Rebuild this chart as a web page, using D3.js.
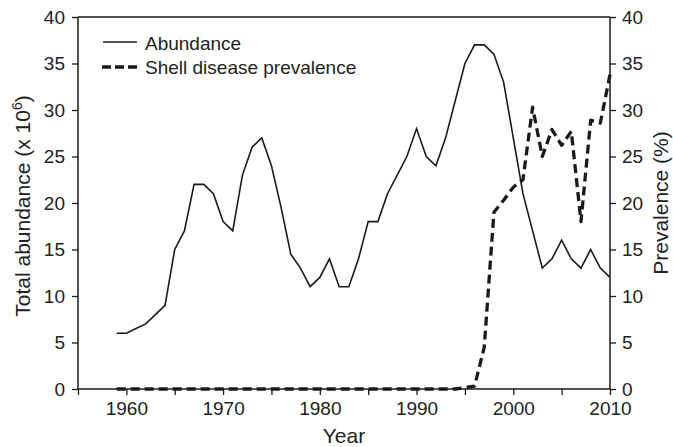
<!DOCTYPE html>
<html>
<head>
<meta charset="utf-8">
<script src="https://cdn.jsdelivr.net/npm/d3@7"></script>
<style>
  html, body { margin: 0; padding: 0; background: #fff; }
  svg { display: block; }
  text { font-family: "Liberation Sans", Arial, Helvetica, sans-serif; fill: #222; }
</style>
</head>
<body>
<svg id="chart" width="673" height="447"></svg>
<script>
const years = [1959,1960,1961,1962,1963,1964,1965,1966,1967,1968,1969,
  1970,1971,1972,1973,1974,1975,1976,1977,1978,1979,
  1980,1981,1982,1983,1984,1985,1986,1987,1988,1989,
  1990,1991,1992,1993,1994,1995,1996,1997,1998,1999,
  2000,2001,2002,2003,2004,2005,2006,2007,2008,2009,2010];
const abundance = [6,6,6.5,7,8,9,15,17,22,22,21,
  18,17,23,26,27,24,19.5,14.5,13,11,
  12,14,11,11,14,18,18,21,23,25,
  28,25,24,27,31,35,37,37,36,33,
  27,21,17,13,14,16,14,13,15,13,12];
const prevalence = [0,0,0,0,0,0,0,0,0,0,0,
  0,0,0,0,0,0,0,0,0,0,
  0,0,0,0,0,0,0,0,0,0,
  0,0,0,0,0,0.15,0.3,4.5,19,20.3,
  21.7,22.5,30.3,25,27.9,26.2,27.7,18,28.9,28.6,33.8];
const xTicks = [1955,1960,1965,1970,1975,1980,1985,1990,1995,2000,2005,2010];
const xLabels = [1960,1970,1980,1990,2000,2010];
const yTicks = [0,5,10,15,20,25,30,35,40];
const seriesNames = ["Abundance", "Shell disease prevalence"];

const svg = d3.select("#chart");
const m = {left: 78, right: 610, top: 17, bottom: 389};

const x = d3.scaleLinear().domain([1955, 2010]).range([m.left, m.right]);
const yL = d3.scaleLinear().domain([0, 40]).range([m.bottom, m.top]);
const yR = d3.scaleLinear().domain([0, 40]).range([m.bottom, m.top]);

const ink = "#1a1a1a";

// axes
const xAxis = d3.axisBottom(x).tickValues(xTicks).tickSize(6).tickPadding(7)
  .tickFormat(d => xLabels.includes(d) ? String(d) : "");
const gx = svg.append("g").attr("transform", `translate(0,${m.bottom})`).call(xAxis);

const gyl = svg.append("g").attr("transform", `translate(${m.left},0)`)
  .call(d3.axisLeft(yL).tickValues(yTicks).tickSize(6).tickPadding(7));
const gyr = svg.append("g").attr("transform", `translate(${m.right},0)`)
  .call(d3.axisRight(yR).tickValues(yTicks).tickSize(6).tickPadding(6));

[gx, gyl, gyr].forEach(g => {
  g.selectAll(".domain").attr("stroke", ink).attr("stroke-width", 1.5);
  g.selectAll(".tick line").attr("stroke", ink).attr("stroke-width", 1.3);
  g.selectAll(".tick text").attr("font-size", 19).attr("fill", "#222")
    .attr("font-family", '"Liberation Sans", Arial, sans-serif');
});
gx.select(".domain").attr("d", `M${m.left},0H${m.right}`);
gyl.select(".domain").attr("d", `M0,${m.bottom}V${m.top}`);
gyr.select(".domain").attr("d", `M0,${m.bottom}V${m.top}`);

// top frame
svg.append("line").attr("x1", m.left).attr("x2", m.right)
  .attr("y1", yL(40)).attr("y2", yL(40))
  .attr("stroke", ink).attr("stroke-width", 1.5);

const data = years.map((yr, i) => ({yr, a: abundance[i], p: prevalence[i]}));

svg.append("path").datum(data)
  .attr("fill", "none").attr("stroke", ink).attr("stroke-width", 1.6)
  .attr("stroke-linejoin", "miter")
  .attr("d", d3.line().x(d => x(d.yr)).y(d => yL(d.a)));

svg.append("path").datum(data)
  .attr("fill", "none").attr("stroke", ink).attr("stroke-width", 3.3)
  .attr("stroke-dasharray", "9,5")
  .attr("stroke-linejoin", "round")
  .attr("d", d3.line().x(d => x(d.yr)).y(d => yR(d.p)));

// axis titles
svg.append("text").attr("x", 344).attr("y", 443).attr("text-anchor", "middle")
  .attr("font-size", 21).text("Year");

const lt = svg.append("text").attr("transform", "translate(30,206) rotate(-90)")
  .attr("text-anchor", "middle").attr("font-size", 21);
lt.append("tspan").text("Total abundance (x 10");
lt.append("tspan").attr("font-size", 14).attr("dy", -8).text("6");
lt.append("tspan").attr("dy", 8).text(")");

svg.append("text").attr("transform", "translate(668,203) rotate(-90)")
  .attr("text-anchor", "middle").attr("font-size", 21).text("Prevalence (%)");

// legend
const leg = svg.append("g");
leg.append("line").attr("x1", 103).attr("x2", 137).attr("y1", 42).attr("y2", 42)
  .attr("stroke", ink).attr("stroke-width", 1.6);
leg.append("line").attr("x1", 102).attr("x2", 137).attr("y1", 67).attr("y2", 67)
  .attr("stroke", ink).attr("stroke-width", 3.3).attr("stroke-dasharray", "9,4");
leg.append("text").attr("x", 145).attr("y", 49.5).attr("font-size", 19).text(seriesNames[0]);
leg.append("text").attr("x", 145).attr("y", 74).attr("font-size", 19).text(seriesNames[1]);
</script>
</body>
</html>
